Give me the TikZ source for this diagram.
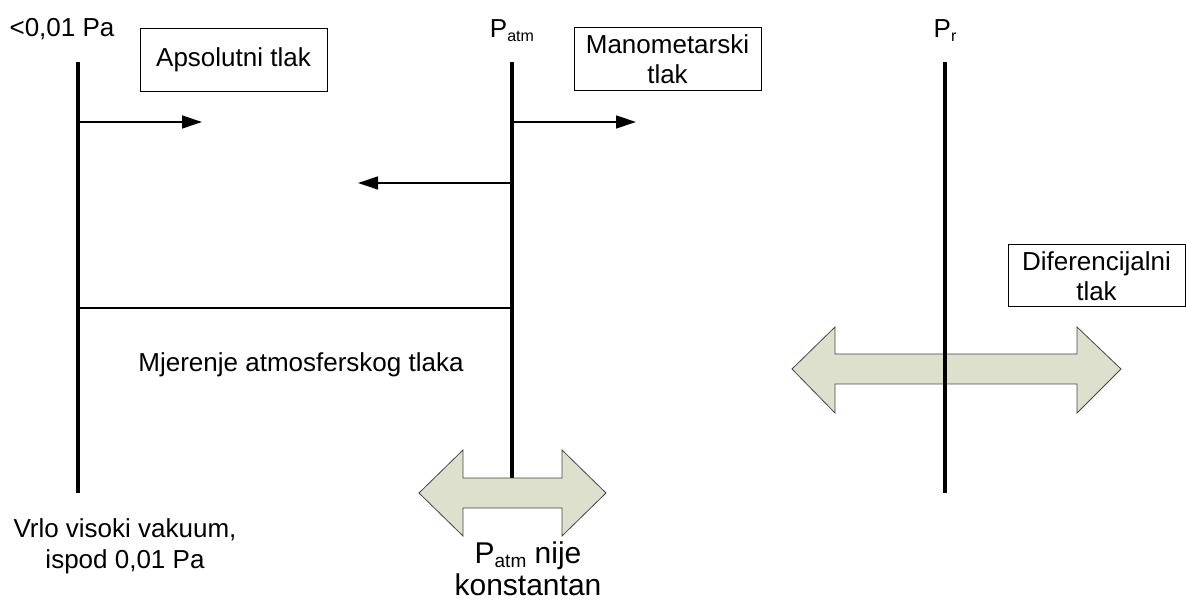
\documentclass[tikz,border=0pt]{standalone}
\usepackage{fontspec}
\setmainfont{Liberation Sans}
\usetikzlibrary{arrows.meta}
\definecolor{arrfill}{RGB}{221,224,204}
\definecolor{arredge}{RGB}{70,70,70}
\newcommand{\smallsub}[1]{\raisebox{-4pt}{\fontsize{16}{16}\selectfont #1}}
\newcommand{\bigsub}[1]{\raisebox{-4.5pt}{\fontsize{19}{19}\selectfont #1}}
\begin{document}
\begin{tikzpicture}[x=1pt,y=-1pt,
  lbl/.style={font=\fontsize{26}{31}\selectfont, inner sep=0pt, align=center},
  box/.style={draw, line width=1pt, font=\fontsize{26}{30}\selectfont, align=center, inner sep=0pt},
  axisline/.style={line width=4.5pt},
  ptr/.style={line width=1.3pt, -{Triangle[length=20pt,width=13pt]}},
  plainline/.style={line width=1.3pt},
  bigarrow/.style={fill=arrfill, draw=arredge, line width=0.8pt}]
\useasboundingbox (0,0) rectangle (1186,601);

% vertical axes
\coordinate (Lt) at (78,62);  \coordinate (Lb) at (78,493);
\coordinate (Mt) at (512,62); \coordinate (Mb) at (512,480);
\coordinate (Rt) at (945,62); \coordinate (Rb) at (945,493);

% right double arrow (behind the line)
\draw[bigarrow] (792,369) -- (835,327) -- (835,354) -- (1077,354) -- (1077,327) -- (1121,369)
  -- (1077,413) -- (1077,384) -- (835,384) -- (835,413) -- cycle;

\draw[axisline] (Lt) -- (Lb);
\draw[axisline] (Mt) -- (Mb);
\draw[axisline] (Rt) -- (Rb);

% middle double arrow
\draw[bigarrow] (419,493) -- (463,450) -- (463,478) -- (562,478) -- (562,450) -- (606,493)
  -- (562,536) -- (562,508) -- (463,508) -- (463,536) -- cycle;

% small arrows
\coordinate (a1s) at (78,122);  \coordinate (a1e) at (202,122);
\coordinate (a2s) at (512,122); \coordinate (a2e) at (636,122);
\coordinate (a3s) at (512,183); \coordinate (a3e) at (358,183);
\coordinate (h1) at (78,308);   \coordinate (h2) at (512,308);
\draw[ptr] (a1s) -- (a1e);
\draw[ptr] (a2s) -- (a2e);
\draw[ptr] (a3s) -- (a3e);
\draw[plainline] (h1) -- (h2);

% labels
\node[lbl, anchor=base] (t1) at (62,37) {<0,01 Pa};
\node[lbl, anchor=base] (t2) at (512,38) {P\smallsub{atm}};
\node[lbl, anchor=base] (t3) at (945,38) {P\smallsub{r}};
\node[lbl, anchor=base] (t4) at (301,372) {Mjerenje atmosferskog tlaka};
\node[lbl, anchor=base] (t5) at (125,568) {Vrlo visoki vakuum,\\ispod 0,01 Pa};
\node[font=\fontsize{30}{32}\selectfont, inner sep=0pt, align=center, anchor=base] (t6) at (528,595)
  {P\bigsub{atm} nije\\konstantan};

% boxes
\node[box, minimum width=187pt, minimum height=63pt] (b1) at (233.5,60) {Apsolutni tlak};
\node[box, minimum width=187pt, minimum height=63pt] (b2) at (667.5,59.5) {Manometarski\\tlak};
\node[box, minimum width=177pt, minimum height=62pt] (b3) at (1096.5,276) {Diferencijalni\\tlak};
\end{tikzpicture}
\end{document}
